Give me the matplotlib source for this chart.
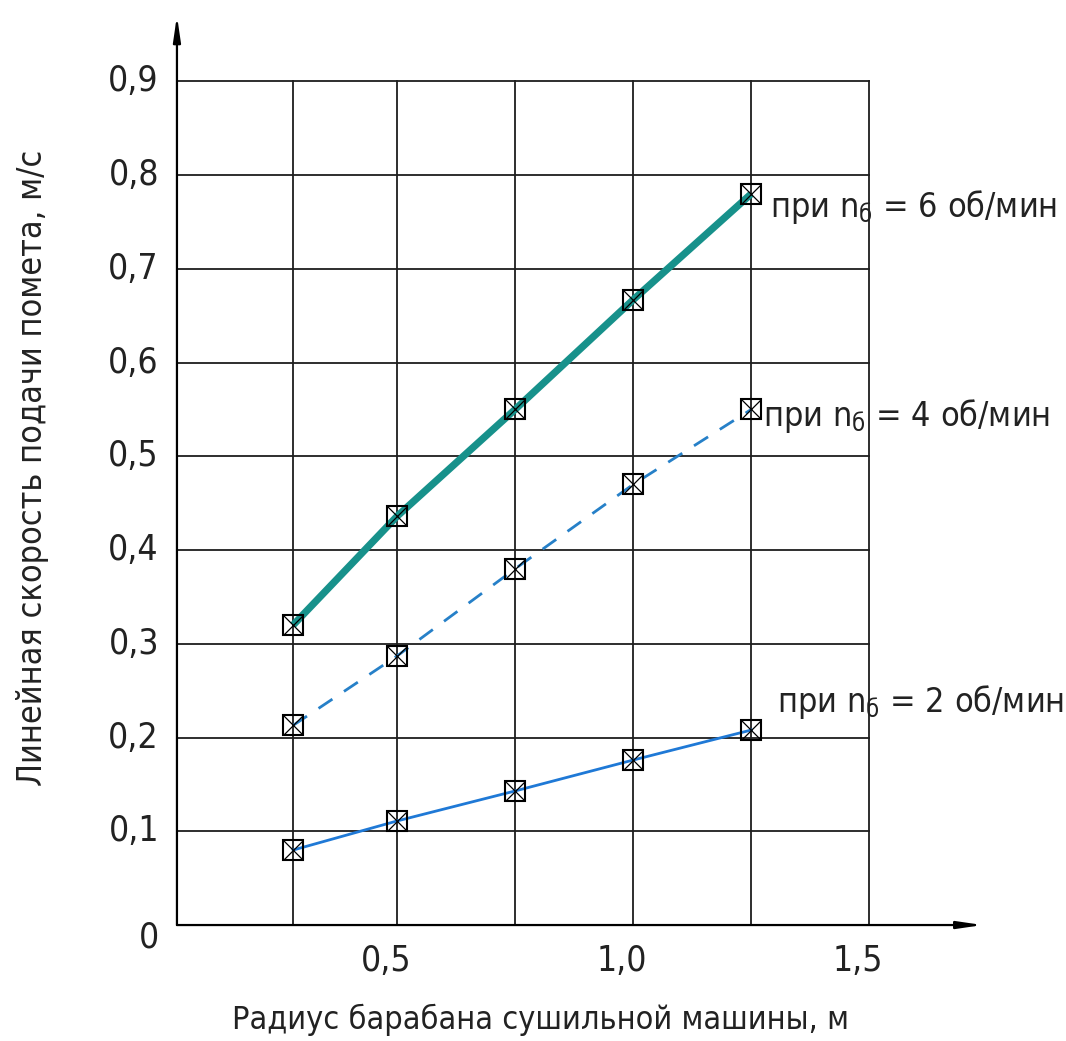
import matplotlib
matplotlib.use("Agg")
import matplotlib.pyplot as plt
import matplotlib.transforms as mtransforms

# ── Data ─────────────────────────────────────────────
radius = [0.28, 0.5, 0.75, 1.0, 1.25]
speed_n6 = [0.32, 0.436, 0.55, 0.667, 0.78]
speed_n4 = [0.213, 0.287, 0.38, 0.47, 0.55]
speed_n2 = [0.08, 0.111, 0.143, 0.176, 0.208]

grid_x = [0.28, 0.5, 0.75, 1.0, 1.25, 1.5]
grid_y = [0.1, 0.2, 0.3, 0.4, 0.5, 0.6, 0.7, 0.8, 0.9]

xtick_pos = [0.5, 1.0, 1.5]
xtick_labels = ["0,5", "1,0", "1,5"]
ytick_pos = [0.0, 0.1, 0.2, 0.3, 0.4, 0.5, 0.6, 0.7, 0.8, 0.9]
ytick_labels = ["0", "0,1", "0,2", "0,3", "0,4", "0,5", "0,6", "0,7", "0,8", "0,9"]

series_labels = [
    r"при n$_{\mathregular{б}}$ = 6 об/мин",
    r"при n$_{\mathregular{б}}$ = 4 об/мин",
    r"при n$_{\mathregular{б}}$ = 2 об/мин",
]

x_title = "Радиус барабана сушильной машины, м"
y_title = "Линейная скорость подачи помета, м/с"

# ── Style ────────────────────────────────────────────
plt.rcParams["font.family"] = ["DejaVu Sans"]
plt.rcParams["font.stretch"] = "condensed"
plt.rcParams["mathtext.fontset"] = "dejavusans"

COLOR_GRID = "#1e1e1e"
COLOR_N6 = "#17918b"
COLOR_N4 = "#2680c8"
COLOR_N2 = "#1f79d6"
TEXT_COLOR = "#222222"

fig = plt.figure(figsize=(10.66, 10.41), dpi=100)
ax = fig.add_axes([0.166, 0.1114, 0.758, 0.878])
ax.set_xlim(0.034, 1.745)
ax.set_ylim(0.0, 0.975)
ax.set_axis_off()

# grid (bounded box, like the drawing)
for gx in grid_x:
    ax.plot([gx, gx], [0.0, 0.9], color=COLOR_GRID, lw=1.3, zorder=1)
for gy in grid_y:
    ax.plot([0.034, 1.5], [gy, gy], color=COLOR_GRID, lw=1.3, zorder=1)

# axes with arrows
arrow_kw = dict(arrowstyle="-|>,head_length=1.5,head_width=0.22",
                color="black", lw=1.6, shrinkA=0, shrinkB=0)
ax.annotate("", xy=(1.74, 0.0), xytext=(0.034, 0.0),
            arrowprops=arrow_kw, annotation_clip=False)
ax.annotate("", xy=(0.034, 0.97), xytext=(0.034, 0.0),
            arrowprops=arrow_kw, annotation_clip=False)

# series
ax.plot(radius, speed_n6, color=COLOR_N6, lw=5.2, solid_capstyle="butt", zorder=3)
ax.plot(radius, speed_n4, color=COLOR_N4, lw=2.0, dashes=(6, 5), zorder=3)
ax.plot(radius, speed_n2, color=COLOR_N2, lw=2.0, zorder=3)

for ys in (speed_n6, speed_n4, speed_n2):
    ax.plot(radius, ys, linestyle="none", marker="s", markersize=15,
            mfc="none", mec="black", mew=1.5, zorder=4)
    ax.plot(radius, ys, linestyle="none", marker="x", markersize=15,
            mec="black", mew=0.9, zorder=4)

# series labels
label_pos = [(1.29, 0.766), (1.275, 0.543), (1.305, 0.238)]
for (lx, ly), txt in zip(label_pos, series_labels):
    ax.text(lx, ly, txt, fontsize=24.5, ha="left", va="center", color=TEXT_COLOR)

# tick labels
ytrans = mtransforms.offset_copy(ax.transData, fig=fig, x=-18, y=0, units="dots")
for yv, lab in zip(ytick_pos, ytick_labels):
    dy = -0.013 if yv == 0 else 0.0
    ax.text(0.034, yv + dy, lab, transform=ytrans, fontsize=25.5,
            ha="right", va="center", color=TEXT_COLOR)

xtrans = mtransforms.offset_copy(ax.transData, fig=fig, x=-11, y=-36, units="dots")
for xv, lab in zip(xtick_pos, xtick_labels):
    ax.text(xv, 0.0, lab, transform=xtrans, fontsize=25.5,
            ha="center", va="center", color=TEXT_COLOR)

# axis titles
fig.text(540 / 1066, 1 - 1020 / 1041, x_title, fontsize=23.2,
         ha="center", va="center", color=TEXT_COLOR)
fig.text(33 / 1066, 1 - 468 / 1041, y_title, fontsize=24.5, rotation=90,
         ha="center", va="center", color=TEXT_COLOR)

fig.savefig("out.png", dpi=100, facecolor="white")
